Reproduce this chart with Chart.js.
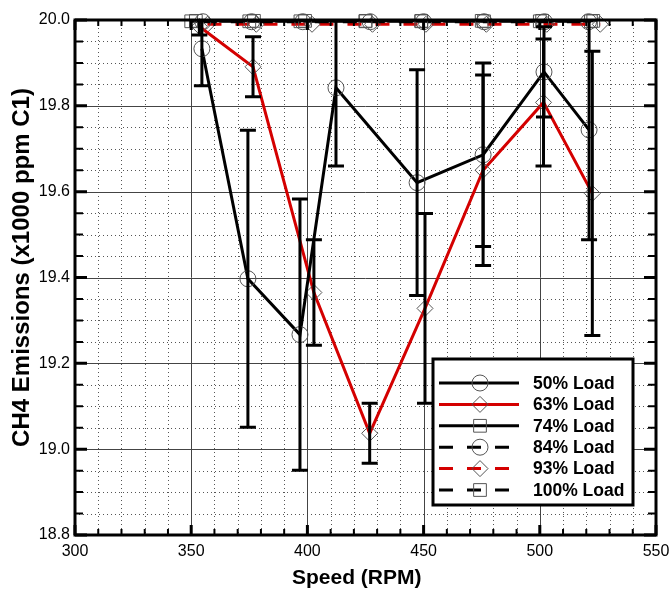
<!DOCTYPE html>
<html>
<head>
<meta charset="utf-8">
<script src="https://cdn.jsdelivr.net/npm/chart.js@4"></script>
<style>
html,body{margin:0;padding:0;background:#fff}
</style>
</head>
<body>
<canvas id="ch4Chart" width="670" height="592"></canvas>
<script>
// values
const loadLabels = ['50% Load','63% Load','74% Load','84% Load','93% Load','100% Load'];

const speed50 = [354.6, 374.4, 396.8, 412.3, 447.2, 475.6, 501.8, 521.2];
const ch4_50  = [19.933, 19.397, 19.267, 19.842, 19.621, 19.686, 19.879, 19.744];
const err50   = [0.086, 0.346, 0.316, 0.182, 0.263, 0.214, 0.105, 0.256];

const speed63 = [353.5, 376.6, 402.8, 426.8, 450.6, 475.6, 501.6, 522.6];
const ch4_63  = [19.985, 19.891, 19.365, 19.037, 19.328, 19.650, 19.808, 19.596];
const err63   = [0.02, 0.07, 0.123, 0.07, 0.221, 0.222, 0.148, 0.331];

const speed74 = [352, 377, 399, 425, 449, 475, 501, 523];
const ch4_74  = [19.998, 19.998, 19.998, 19.998, 19.998, 19.998, 19.998, 19.998];
const speed84 = [355, 376, 398, 427, 450, 476, 502, 521];
const ch4_84  = [19.996, 19.996, 19.996, 19.996, 19.996, 19.996, 19.996, 19.996];
const speed93 = [357, 378, 402, 428, 451, 477, 503, 526];
const ch4_93  = [19.99, 19.99, 19.99, 19.99, 19.99, 19.99, 19.99, 19.99];
const speed100 = [350, 375, 397, 425, 449, 476, 500, 522];
const ch4_100  = [19.997, 19.997, 19.997, 19.997, 19.997, 19.997, 19.997, 19.997];

const xTicks = [300, 350, 400, 450, 500, 550];
const yTicks = [18.8, 19.0, 19.2, 19.4, 19.6, 19.8, 20.0];

const RED = '#d40000';
const pts = (xs, ys) => xs.map((x, i) => ({x: x, y: ys[i]}));

function lineSet(label, xs, ys, color, dash, marker, rad) {
  return {
    label: label,
    data: pts(xs, ys),
    borderColor: color,
    borderWidth: 3,
    borderDash: dash,
    pointStyle: marker,
    pointRadius: rad,
    pointBorderColor: '#555',
    pointBorderWidth: 1,
    pointBackgroundColor: 'rgba(0,0,0,0)',
    tension: 0,
    clip: false
  };
}

const datasets = [
  lineSet(loadLabels[0], speed50, ch4_50, '#000', [], 'circle', 8),
  lineSet(loadLabels[1], speed63, ch4_63, RED, [], 'rectRot', 8),
  lineSet(loadLabels[2], speed74, ch4_74, '#000', [], 'rect', 9),
  lineSet(loadLabels[3], speed84, ch4_84, '#000', [14, 14], 'circle', 8),
  lineSet(loadLabels[4], speed93, ch4_93, RED, [14, 14], 'rectRot', 8),
  lineSet(loadLabels[5], speed100, ch4_100, '#000', [14, 14], 'rect', 9)
];
const errorSets = [[speed50, ch4_50, err50], [speed63, ch4_63, err63]];

// grid, frame ticks, error bars and legend
const framePlugin = {
  id: 'frame',
  beforeDatasetsDraw(chart) {
    const {ctx, chartArea: a, scales: {x, y}} = chart;
    ctx.save();
    ctx.lineWidth = 1;
    ctx.strokeStyle = '#555';
    ctx.setLineDash([1, 3]);
    for (let v = 310; v < 550; v += 10) {
      if (v % 50 === 0) continue;
      const px = Math.round(x.getPixelForValue(v)) + 0.5;
      ctx.beginPath(); ctx.moveTo(px, a.top); ctx.lineTo(px, a.bottom); ctx.stroke();
    }
    for (let k = 1; k < 24; k++) {
      if (k % 4 === 0) continue;
      const py = Math.round(y.getPixelForValue(18.8 + k * 0.05)) + 0.5;
      ctx.beginPath(); ctx.moveTo(a.left, py); ctx.lineTo(a.right, py); ctx.stroke();
    }
    ctx.setLineDash([]);
    ctx.strokeStyle = '#444';
    xTicks.forEach(v => {
      const px = Math.round(x.getPixelForValue(v)) + 0.5;
      ctx.beginPath(); ctx.moveTo(px, a.top); ctx.lineTo(px, a.bottom); ctx.stroke();
    });
    yTicks.forEach(v => {
      const py = Math.round(y.getPixelForValue(v)) + 0.5;
      ctx.beginPath(); ctx.moveTo(a.left, py); ctx.lineTo(a.right, py); ctx.stroke();
    });
    ctx.restore();
  },
  afterDatasetsDraw(chart) {
    const {ctx, chartArea: a, scales: {x, y}} = chart;
    ctx.save();
    ctx.beginPath();
    ctx.rect(a.left, a.top, a.right - a.left, a.bottom - a.top);
    ctx.clip();
    ctx.strokeStyle = '#000';
    ctx.lineWidth = 3;
    errorSets.forEach(([xs, ys, es]) => {
      xs.forEach((xv, i) => {
        const px = x.getPixelForValue(xv);
        const hi = y.getPixelForValue(ys[i] + es[i]);
        const lo = y.getPixelForValue(ys[i] - es[i]);
        ctx.beginPath();
        ctx.moveTo(px, hi); ctx.lineTo(px, lo);
        ctx.moveTo(px - 8, hi); ctx.lineTo(px + 8, hi);
        ctx.moveTo(px - 8, lo); ctx.lineTo(px + 8, lo);
        ctx.stroke();
      });
    });
    ctx.restore();

    // frame + inward ticks
    ctx.save();
    ctx.strokeStyle = '#000';
    for (let v = 300; v <= 550; v += 10) {
      const px = x.getPixelForValue(v);
      const major = v % 50 === 0;
      const len = major ? 10 : 6;
      ctx.lineWidth = major ? 3 : 2;
      ctx.beginPath();
      ctx.moveTo(px, a.bottom); ctx.lineTo(px, a.bottom - len);
      ctx.moveTo(px, a.top); ctx.lineTo(px, a.top + len);
      ctx.stroke();
    }
    for (let k = 0; k <= 24; k++) {
      const py = y.getPixelForValue(18.8 + k * 0.05);
      const major = k % 4 === 0;
      const len = major ? 12 : 8;
      ctx.lineWidth = major ? 3 : 2;
      ctx.beginPath();
      ctx.moveTo(a.left, py); ctx.lineTo(a.left + len, py);
      ctx.moveTo(a.right, py); ctx.lineTo(a.right - len, py);
      ctx.stroke();
    }
    ctx.lineWidth = 3;
    ctx.strokeRect(a.left, a.top, a.right - a.left, a.bottom - a.top);
    ctx.restore();

    // legend
    const bx = 433, by = 359, bw = 200, bh = 146;
    ctx.save();
    ctx.fillStyle = '#fff';
    ctx.fillRect(bx, by, bw, bh);
    ctx.lineWidth = 3;
    ctx.strokeStyle = '#000';
    ctx.strokeRect(bx, by, bw, bh);
    ctx.font = 'bold 17.5px "Liberation Sans", Arial, sans-serif';
    ctx.textBaseline = 'middle';
    chart.data.datasets.forEach((ds, i) => {
      const ly = 383 + i * 21.4;
      ctx.strokeStyle = ds.borderColor;
      ctx.lineWidth = 3;
      ctx.setLineDash(ds.borderDash);
      ctx.beginPath(); ctx.moveTo(439, ly); ctx.lineTo(ds.borderDash.length ? 512 : 519, ly); ctx.stroke();
      ctx.setLineDash([]);
      ctx.fillStyle = 'rgba(0,0,0,0)';
      ctx.strokeStyle = '#555';
      ctx.lineWidth = 1;
      Chart.helpers.drawPoint(ctx, {pointStyle: ds.pointStyle, radius: ds.pointRadius, borderWidth: 1}, 480, ly);
      ctx.fillStyle = '#000';
      ctx.fillText(ds.label, 533, ly + 1);
    });
    ctx.restore();
  }
};

Chart.defaults.font.family = '"Liberation Sans", Arial, sans-serif';
Chart.defaults.color = '#000';

new Chart(document.getElementById('ch4Chart'), {
  type: 'line',
  data: {datasets: datasets},
  options: {
    responsive: false,
    animation: false,
    layout: {padding: {top: 20, right: 14, left: 0, bottom: 0}},
    plugins: {legend: {display: false}, tooltip: {enabled: false}},
    scales: {
      x: {
        type: 'linear', min: 300, max: 550,
        afterBuildTicks: s => { s.ticks = xTicks.map(v => ({value: v})); },
        afterFit: s => { s.height = 57; s.paddingLeft = 0; s.paddingRight = 14; },
        grid: {display: false, drawTicks: false}, border: {display: false},
        ticks: {font: {size: 16}, padding: 7, maxRotation: 0},
        title: {display: true, text: 'Speed (RPM)   ', font: {size: 21, weight: 'bold'}, padding: {top: 0, bottom: 1}}
      },
      y: {
        type: 'linear', min: 18.8, max: 20.0,
        afterBuildTicks: s => { s.ticks = yTicks.map(v => ({value: v})); },
        afterFit: s => { s.width = 75; s.paddingTop = 0; s.paddingBottom = 0; },
        grid: {display: false, drawTicks: false}, border: {display: false},
        ticks: {font: {size: 16}, padding: 5, callback: v => v.toFixed(1)},
        title: {display: true, text: '   CH4 Emissions (x1000 ppm C1)', font: {size: 24, weight: 'bold'}, padding: {top: 8, bottom: 0}}
      }
    }
  },
  plugins: [framePlugin]
});
</script>
</body>
</html>
